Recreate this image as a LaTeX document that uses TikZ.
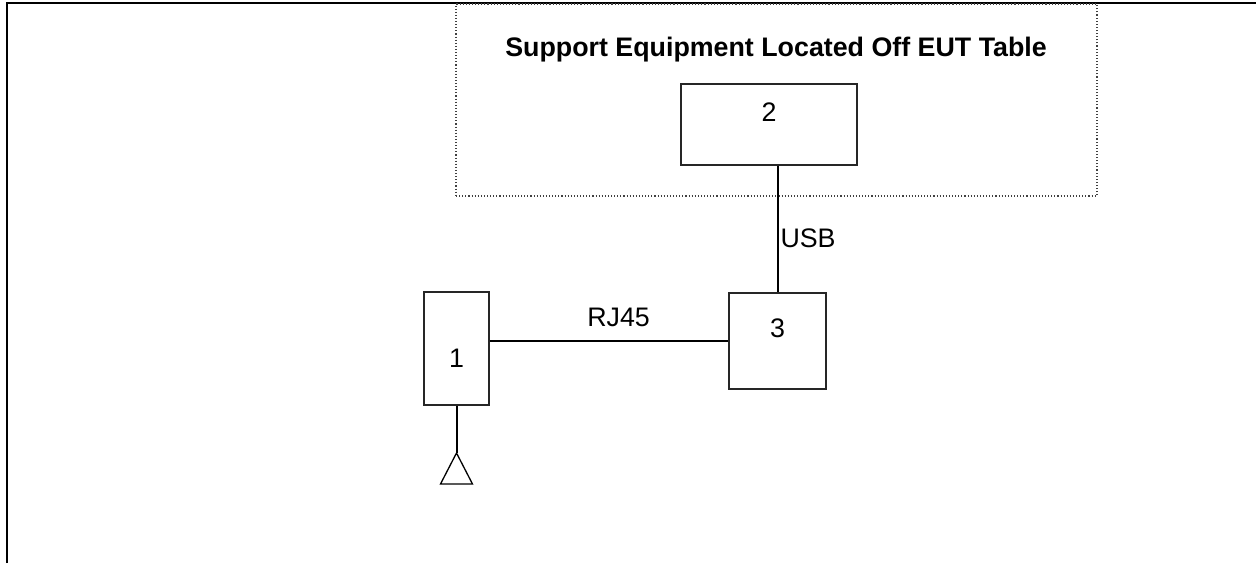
\documentclass[tikz,border=0pt]{standalone}
\usepackage{fontspec}
\setmainfont{Liberation Sans}
\usetikzlibrary{positioning}

\begin{document}
\begin{tikzpicture}[
    x=1pt, y=-1pt,
    font=\fontsize{26.8}{32}\selectfont,
    unitbox/.style={rectangle, draw=black!85, line width=1.3pt, inner sep=0pt},
    offtable/.style={rectangle, draw=black!75, dotted, line width=1.1pt, inner sep=0pt},
    cable/.style={line width=2pt},
    cablelabel/.style={inner sep=2pt}
  ]
    \useasboundingbox (0,0) rectangle (1256,563);

    % Frame
    \draw[line width=2.2pt] (7,563) -- (7,3) -- (1256,3);

    % Support equipment area
    \node[offtable, minimum width=641pt, minimum height=192pt] (area) at (776.5,100) {};
    \node[font=\fontsize{26.8}{32}\selectfont\bfseries, anchor=base] (title) at (776,56) {Support Equipment Located Off EUT Table};

    % Units
    \node[unitbox, minimum width=176pt, minimum height=81pt,
          label={[yshift=12.5pt]center:2}] (u2) at (769,124.5) {};
    \node[unitbox, minimum width=97pt, minimum height=96pt,
          label={[yshift=13pt]center:3}] (u3) at (777.5,341) {};
    \node[unitbox, minimum width=65pt, minimum height=113pt,
          label={[yshift=-9.5pt]center:1}] (u1) at (456.5,348.5) {};
    \coordinate (ant) at (456.5,453);

    % Connections
    \draw[cable] (u3.north |- u2.south) -- node[cablelabel, right, pos=0.57] {USB} (u3.north);
    \draw[cable] (u1.east |- u3.west) -- node[cablelabel, above=11pt, pos=0.54] {RJ45} (u3.west);
    \draw[cable] (u1.south) -- (ant);
    \draw[line width=1.3pt] (ant) -- (440.5,484) -- (472.5,484) -- cycle;
  \end{tikzpicture}
\end{document}
